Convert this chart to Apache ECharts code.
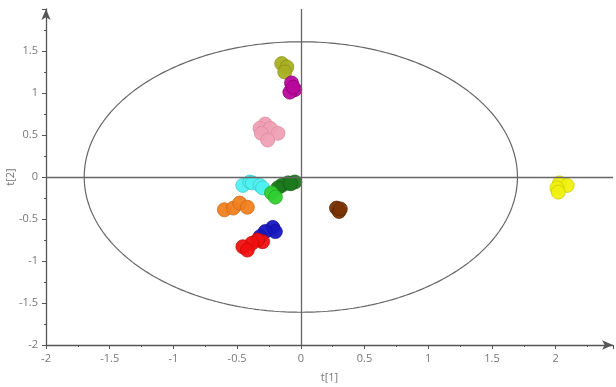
<!DOCTYPE html>
<html><head><meta charset="utf-8">
<script src="https://cdn.jsdelivr.net/npm/echarts@6/dist/echarts.min.js"></script>
<style>html,body{margin:0;padding:0;background:#fff}#c{width:616px;height:387px}</style>
</head><body><div id="c"></div>
<script>
// Score plot t[1] vs t[2]
const groupNames = ['olive','magenta','pink','cyan','darkgreen','green','orange','blue','red','brown','yellow'];
const olive = [[-0.15,1.35],[-0.11,1.31],[-0.126,1.25]];
const magenta = [[-0.073,1.12],[-0.047,1.04],[-0.086,1.01],[-0.06,1.07]];
const pink = [[-0.28,0.63],[-0.32,0.58],[-0.24,0.58],[-0.31,0.52],[-0.18,0.52],[-0.26,0.44]];
const cyan = [[-0.455,-0.10],[-0.40,-0.06],[-0.38,-0.07],[-0.32,-0.10],[-0.30,-0.13]];
const darkgreen = [[-0.047,-0.06],[-0.10,-0.07],[-0.15,-0.10],[-0.18,-0.13],[-0.08,-0.08]];
const green = [[-0.23,-0.19],[-0.20,-0.24]];
const orange = [[-0.60,-0.39],[-0.53,-0.37],[-0.48,-0.31],[-0.42,-0.36]];
const blue = [[-0.22,-0.60],[-0.20,-0.65],[-0.28,-0.65],[-0.32,-0.71]];
const red = [[-0.30,-0.77],[-0.34,-0.75],[-0.385,-0.79],[-0.455,-0.83],[-0.42,-0.87]];
const brown = [[0.28,-0.37],[0.30,-0.41],[0.31,-0.38]];
const yellow = [[2.03,-0.07],[2.09,-0.10],[2.01,-0.13],[2.02,-0.18]];
const groupData = [olive,magenta,pink,cyan,darkgreen,green,orange,blue,red,brown,yellow];
const fillColors = ['#a8b020','#b8089c','#f0a0b4','#50f0f0','#1c7a1c','#30d030','#f08020','#1818c0','#f01010','#7a3404','#f0f010'];
const edgeColors = ['#8a9018','#8a0074','#d88aa0','#38c8c8','#145e14','#24a824','#c86a14','#0e0e96','#c00a0a','#5a2400','#c8c800'];
// Hotelling ellipse semi-axes
const ellipseA = 1.70, ellipseB = 1.61;
const xTicks = {min:-2, max:2.45, interval:0.5};
const yTicks = {min:-2, max:2, interval:0.5};

const ell = [];
for (let i = 0; i <= 360; i++) {
  const t = i * Math.PI / 180;
  ell.push([ellipseA * Math.cos(t), ellipseB * Math.sin(t)]);
}
const font = 'Open Sans, Liberation Sans, sans-serif';
const axisCommon = {
  axisLine:{onZero:false, symbol:['none','arrow'], symbolSize:[7,11], lineStyle:{color:'#555', width:1.3}},
  axisTick:{show:true, length:4, lineStyle:{color:'#555'}},
  minorTick:{show:true, splitNumber:2, length:2, lineStyle:{color:'#555'}},
  splitLine:{show:false},
  axisLabel:{color:'#777', fontSize:11, fontFamily:font, showMaxLabel:false},
  nameTextStyle:{color:'#777', fontSize:11, fontFamily:font},
  nameMoveOverlap:false
};
const series = [{
  type:'line', data:ell, showSymbol:false, silent:true, smooth:false,
  lineStyle:{color:'#666', width:1.2},
  markLine:{silent:true, symbol:'none', label:{show:false},
    lineStyle:{color:'#666', width:1.3, type:'solid'},
    data:[{xAxis:0},{yAxis:0}]}
}];
groupData.forEach((d,i)=>{
  series.push({type:'scatter', name:groupNames[i], data:d, symbolSize:14,
    itemStyle:{color:fillColors[i], borderColor:edgeColors[i], borderWidth:0.8, opacity:0.95}});
});
const chart = echarts.init(document.getElementById('c'));
chart.setOption({
  animation:false,
  grid:{left:46, right:3, top:9, bottom:42, containLabel:false, outerBoundsMode:'none'},
  xAxis:Object.assign({type:'value', min:xTicks.min, max:xTicks.max, interval:xTicks.interval,
    name:'t[1]', nameLocation:'middle', nameGap:27}, axisCommon),
  yAxis:Object.assign({type:'value', min:yTicks.min, max:yTicks.max, interval:yTicks.interval,
    name:'t[2]', nameLocation:'middle', nameGap:30}, axisCommon),
  series:series
});
</script></body></html>
